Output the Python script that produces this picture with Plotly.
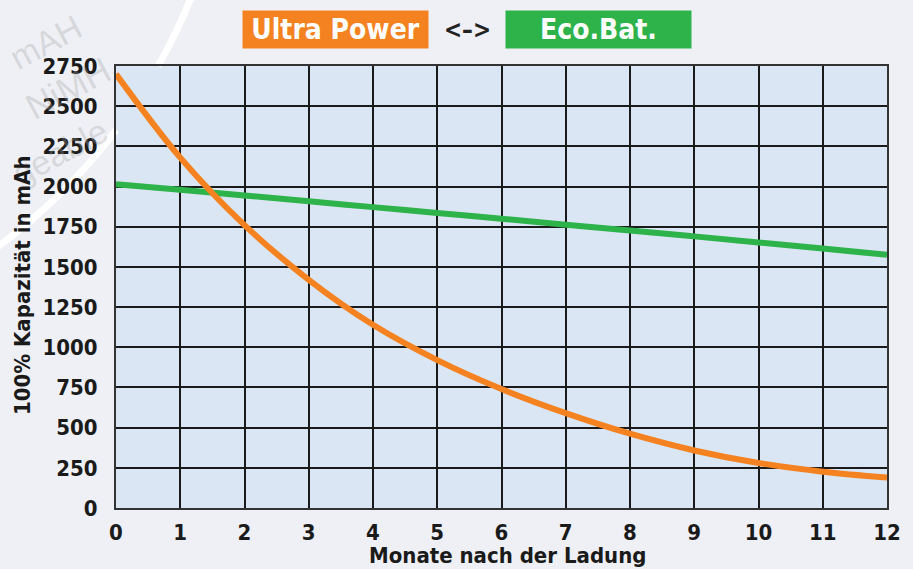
import math
import plotly.graph_objects as go

months = [0, 1, 2, 3, 4, 5, 6, 7, 8, 9, 10, 11, 12]
ultra_power = [2700, 2180, 1760, 1420, 1140, 920, 740, 590, 462, 358, 280, 226, 190]
eco_bat = [2015, 1980, 1945, 1908, 1872, 1836, 1800, 1763, 1726, 1690, 1652, 1614, 1575]
y_ticks = [0, 250, 500, 750, 1000, 1250, 1500, 1750, 2000, 2250, 2500, 2750]

FONT = "Liberation Sans Narrow, DejaVu Sans Condensed, Arial Narrow, sans-serif"
ORANGE = "#f58220"
GREEN = "#2db34a"
INK = "#1a1a1a"

fig = go.Figure()
fig.add_trace(go.Scatter(x=months, y=eco_bat, mode="lines", line=dict(color=GREEN, width=6, shape="spline"),
                         name="Eco.Bat.", cliponaxis=False))
fig.add_trace(go.Scatter(x=months, y=ultra_power, mode="lines", line=dict(color=ORANGE, width=6, shape="spline"),
                         name="Ultra Power", cliponaxis=False))

L, R, T, B = 116, 26, 66, 61
W, H = 913, 569
pw, ph = W - L - R, H - T - B

def px(x):
    return (x - L) / pw

def py(y):
    return (H - B - y) / ph

# decorative background arc (only the parts outside the plot area)
cx, cy, rad = -343.7, -217.7, 576.4
def arc_path(y_from, y_to, n=24):
    pts = []
    for i in range(n + 1):
        yy = y_from + (y_to - y_from) * i / n
        xx = cx + math.sqrt(rad ** 2 - (yy - cy) ** 2)
        pts.append((px(xx), py(yy)))
    return "M " + " L ".join(f"{a:.5f},{b:.5f}" for a, b in pts)

for seg in [(250, 130), (66, -5)]:
    fig.add_shape(type="path", xref="paper", yref="paper", path=arc_path(*seg),
                  line=dict(color="rgba(255,255,255,0.95)", width=7), layer="below")

for txt, x, y, ang, sz in [("mAH", 46, 42, -28, 34), ("NiMH", 68, 88, -28, 36), ("geable", 60, 152, -28, 34)]:
    fig.add_annotation(text=txt, xref="paper", yref="paper", x=px(x), y=py(y), showarrow=False,
                       xanchor="center", yanchor="middle", textangle=ang,
                       font=dict(family="Liberation Sans, Arial", size=sz, color="rgba(160,160,160,0.33)"))

# header boxes
fig.add_annotation(text="<b>Ultra Power</b>", xref="paper", yref="paper", x=px(335.5), y=py(29.5),
                   showarrow=False, width=185, height=37, bgcolor=ORANGE, borderpad=0,
                   font=dict(family=FONT, size=28, color="white"), xanchor="center", yanchor="middle")
fig.add_annotation(text="<b><–></b>", xref="paper", yref="paper", x=px(467), y=py(30),
                   showarrow=False, font=dict(family=FONT, size=24, color="#222222"),
                   xanchor="center", yanchor="middle")
fig.add_annotation(text="<b>Eco.Bat.</b>", xref="paper", yref="paper", x=px(598.5), y=py(29.5),
                   showarrow=False, width=185, height=37, bgcolor=GREEN, borderpad=0,
                   font=dict(family=FONT, size=28, color="white"), xanchor="center", yanchor="middle")

# axis titles
fig.add_annotation(text="<b>Monate nach der Ladung</b>", xref="paper", yref="paper", x=px(507), y=py(555),
                   showarrow=False, font=dict(family=FONT, size=22, color=INK), xanchor="center", yanchor="middle")
fig.add_annotation(text="<b>100% Kapazität in mAh</b>", xref="paper", yref="paper", x=px(22), y=py(285),
                   showarrow=False, textangle=-90, font=dict(family=FONT, size=22, color=INK),
                   xanchor="center", yanchor="middle")

fig.update_layout(
    width=W, height=H,
    margin=dict(l=L, r=R, t=T, b=B, autoexpand=False),
    paper_bgcolor="#eff0f5",
    plot_bgcolor="#dae6f3",
    showlegend=False,
    font=dict(family=FONT, color=INK),
)
fig.update_xaxes(
    range=[0, 12], tickvals=months, ticktext=[f"<b>{m}</b>" for m in months],
    showgrid=True, gridcolor=INK, gridwidth=1.8, automargin=False,
    showline=True, linecolor="#333333", linewidth=2, mirror=True,
    zeroline=False, ticks="", ticklabelstandoff=4,
    tickfont=dict(family=FONT, size=22, color=INK),
)
fig.update_yaxes(
    range=[0, 2750], tickvals=y_ticks, ticktext=[f"<b>{v}</b>" for v in y_ticks],
    showgrid=True, gridcolor=INK, gridwidth=1.8, automargin=False,
    showline=True, linecolor="#333333", linewidth=2, mirror=True,
    zeroline=False, ticks="", ticklabelstandoff=12,
    tickfont=dict(family=FONT, size=22, color=INK),
)

fig.write_html("out.html", config={"displayModeBar": False},
               post_script="document.body.style.margin='0';document.body.style.overflow='hidden';")
